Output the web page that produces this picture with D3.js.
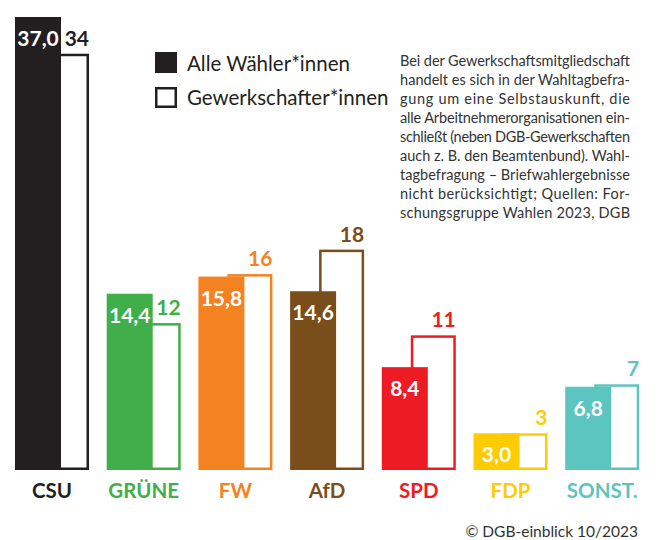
<!DOCTYPE html>
<html>
<head>
<meta charset="utf-8">
<script src="https://cdn.jsdelivr.net/npm/d3@7"></script>
<style>
  body { margin: 0; background: #fff; }
</style>
</head>
<body>
<div id="chart"></div>
<script>
let w = 658;
let h = 540;

// data
let parties = ["CSU", "GRÜNE", "FW", "AfD", "SPD", "FDP", "SONST."];
let allVoters = [37.0, 14.4, 15.8, 14.6, 8.4, 3.0, 6.8];
let unionMembers = [34, 12, 16, 18, 11, 3, 7];
let colors = ["#231f20", "#40ae49", "#f58220", "#7a4e1a", "#ed1c24", "#ffcb05", "#5cc5bf"];
let legendLabels = ["Alle Wähler*innen", "Gewerkschafter*innen"];
let noteLines = [
  "Bei der Gewerkschaftsmitgliedschaft",
  "handelt es sich in der Wahltagbefra-",
  "gung um eine Selbstauskunft, die",
  "alle Arbeitnehmerorganisationen ein-",
  "schließt (neben DGB-Gewerkschaften",
  "auch z. B. den Beamtenbund). Wahl-",
  "tagbefragung – Briefwahlergebnisse",
  "nicht berücksichtigt; Quellen: For-",
  "schungsgruppe Wahlen 2023, DGB"
];
let credit = "© DGB-einblick 10/2023";

let fmt = v => v.toFixed(1).replace(".", ",");

let data = parties.map((p, i) => ({
  party: p, all: allVoters[i], union: unionMembers[i], color: colors[i]
}));

let svg = d3.select("#chart").append("svg")
  .attr("width", w)
  .attr("height", h)
  .style("font-family", "Lato, sans-serif");

let baseY = 470;
let barW = 46;
let outW = 45;
let outOffset = 29;
let sw = 2.5;

let xScale = d3.scaleBand().domain(parties).range([15, 15 + 7 * 91.7]).padding(0);
let yScale = d3.scaleLinear().domain([0, 37]).range([baseY, 17]);

let groups = svg.selectAll(".party").data(data).enter()
  .append("g")
    .attr("class", "party")
    .attr("transform", d => "translate(" + xScale(d.party) + ",0)");

// outline bar (union members), behind
groups.append("rect")
  .attr("x", outOffset + sw / 2)
  .attr("y", d => yScale(d.union) + sw / 2)
  .attr("width", outW - sw)
  .attr("height", d => baseY - yScale(d.union) - sw)
  .attr("fill", "#fff")
  .attr("stroke", d => d.color)
  .attr("stroke-width", sw);

// filled bar (all voters)
groups.append("rect")
  .attr("x", 0)
  .attr("y", d => yScale(d.all))
  .attr("width", barW)
  .attr("height", d => baseY - yScale(d.all))
  .attr("fill", d => d.color);

groups.append("text")
  .text(d => fmt(d.all))
  .attr("x", barW / 2)
  .attr("y", d => yScale(d.all) + 29)
  .attr("text-anchor", "middle")
  .attr("fill", "#fff")
  .attr("font-weight", "bold")
  .attr("font-size", "21px");

groups.append("text")
  .text(d => d.union)
  .attr("x", outOffset + outW)
  .attr("y", d => yScale(d.union) - 8)
  .attr("text-anchor", "end")
  .attr("fill", d => d.color)
  .attr("font-weight", "bold")
  .attr("font-size", "21px");

groups.append("text")
  .text(d => d.party)
  .attr("x", (outOffset + outW) / 2)
  .attr("y", 498)
  .attr("text-anchor", "middle")
  .attr("fill", d => d.color)
  .attr("font-weight", "bold")
  .attr("font-size", "20.5px");

// legend
let legend = svg.append("g").attr("transform", "translate(155, 52)");
legend.append("rect")
  .attr("x", 0).attr("y", 0).attr("width", 22).attr("height", 21)
  .attr("fill", "#231f20");
legend.append("rect")
  .attr("x", 1.25).attr("y", 36.25).attr("width", 19.5).attr("height", 18.5)
  .attr("fill", "#fff").attr("stroke", "#231f20").attr("stroke-width", sw);
legend.selectAll(".legendLabel").data(legendLabels).enter()
  .append("text")
    .attr("class", "legendLabel")
    .text(d => d)
    .attr("x", 32)
    .attr("y", (d, i) => 19 + i * 34)
    .attr("fill", "#231f20")
    .attr("font-size", "20.5px");

// note
svg.append("g").selectAll("text").data(noteLines).enter()
  .append("text")
    .text(d => d)
    .attr("x", 400)
    .attr("y", (d, i) => 66 + i * 19)
    .attr("textLength", 230)
    .attr("lengthAdjust", "spacing")
    .attr("fill", "#333")
    .attr("font-size", "14.5px");

svg.append("text")
  .text(credit)
  .attr("x", 638)
  .attr("y", 537)
  .attr("text-anchor", "end")
  .attr("fill", "#333")
  .attr("font-size", "15.5px");
</script>
</body>
</html>
